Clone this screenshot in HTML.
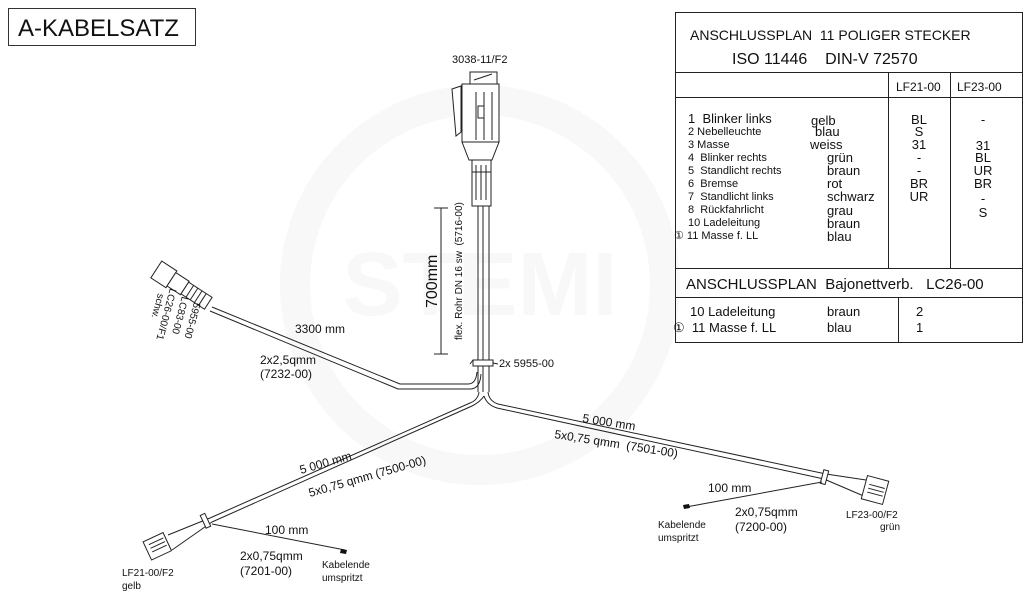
<!DOCTYPE html>
<html><head><meta charset="utf-8"><style>
body{margin:0;background:#fff;width:1032px;height:613px;overflow:hidden}
svg{display:block;font-family:"Liberation Sans",sans-serif}
text{white-space:pre}
</style></head><body>
<svg width="1032" height="613" viewBox="0 0 1032 613" xmlns="http://www.w3.org/2000/svg" xml:space="preserve">
<!-- watermark -->
<circle cx="480" cy="285" r="185" fill="none" stroke="#f8f8f8" stroke-width="30"/>
<text x="480" y="315" font-size="90" font-weight="bold" fill="#f8f8f8" text-anchor="middle">STEMI</text>

<!-- title box -->
<rect x="8.5" y="8.5" width="187" height="37" fill="#fff" stroke="#333"/>
<text x="18" y="36" font-size="24" fill="#111">A-KABELSATZ</text>

<!-- table -->
<g stroke="#222" fill="none" stroke-width="1">
<rect x="675.5" y="12.5" width="347" height="330"/>
<line x1="675" y1="72.5" x2="1022" y2="72.5"/>
<line x1="675" y1="97.5" x2="1022" y2="97.5"/>
<line x1="675" y1="268.5" x2="1022" y2="268.5"/>
<line x1="675" y1="297.5" x2="1022" y2="297.5"/>
<line x1="888.5" y1="72" x2="888.5" y2="268"/>
<line x1="950.5" y1="72" x2="950.5" y2="268"/>
<line x1="898.5" y1="297" x2="898.5" y2="342"/>
</g>
<g fill="#111">
<text x="690" y="40" font-size="14">ANSCHLUSSPLAN  11 POLIGER STECKER</text>
<text x="732" y="64" font-size="16">ISO 11446    DIN-V 72570</text>
<text x="896" y="91" font-size="12">LF21-00</text>
<text x="957" y="91" font-size="12">LF23-00</text>
<g font-size="11">
<text x="688" y="123" font-size="13">1  Blinker links</text>
<text x="688" y="135">2 Nebelleuchte</text>
<text x="688" y="148">3 Masse</text>
<text x="688" y="161">4  Blinker rechts</text>
<text x="688" y="174">5  Standlicht rechts</text>
<text x="688" y="187">6  Bremse</text>
<text x="688" y="200">7  Standlicht links</text>
<text x="688" y="213">8  Rückfahrlicht</text>
<text x="688" y="226">10 Ladeleitung</text>
<text x="674" y="239">① 11 Masse f. LL</text>
</g>
<g font-size="13">
<text x="811" y="125">gelb</text>
<text x="815" y="136">blau</text>
<text x="810" y="149">weiss</text>
<text x="827" y="162">grün</text>
<text x="827" y="175">braun</text>
<text x="827" y="188">rot</text>
<text x="827" y="201">schwarz</text>
<text x="827" y="215">grau</text>
<text x="827" y="228">braun</text>
<text x="827" y="241">blau</text>
</g>
<g font-size="13" text-anchor="middle">
<text x="919" y="124">BL</text><text x="919" y="136">S</text><text x="919" y="149">31</text>
<text x="919" y="162">-</text><text x="919" y="175">-</text><text x="919" y="188">BR</text><text x="919" y="201">UR</text>
<text x="983" y="124">-</text><text x="983" y="150">31</text><text x="983" y="162">BL</text><text x="983" y="175">UR</text>
<text x="983" y="188">BR</text><text x="983" y="203">-</text><text x="983" y="217">S</text>
</g>
<text x="686" y="289" font-size="15">ANSCHLUSSPLAN  Bajonettverb.   LC26-00</text>
<g font-size="13">
<text x="690" y="316">10 Ladeleitung</text>
<text x="673" y="332">①  11 Masse f. LL</text>
<text x="827" y="316">braun</text><text x="827" y="332">blau</text>
<text x="916" y="316">2</text><text x="916" y="332">1</text>
</g>
</g>

<!-- main plug -->
<g stroke="#222" fill="#fff" stroke-width="1">
<rect x="470" y="72" width="27" height="12"/>
<rect x="462" y="84" width="37" height="58"/>
<path d="M452 89 L461 86 L461 132 L456 136 Z"/>
<path d="M462 142 L499 142 L492 160 L469 160 Z"/>
<rect x="472" y="160" width="19" height="46"/>
<line x1="476" y1="92" x2="476" y2="140"/><line x1="484" y1="92" x2="484" y2="140"/><line x1="492" y1="92" x2="492" y2="140"/>
<rect x="478" y="106" width="6" height="12"/>
<line x1="476" y1="165" x2="476" y2="200"/><line x1="481" y1="165" x2="481" y2="200"/><line x1="486" y1="165" x2="486" y2="200"/>
<line x1="472" y1="172" x2="491" y2="172"/>
<path d="M474 80 L492 74"/>
</g>
<text x="452" y="63" font-size="11" fill="#111">3038-11/F2</text>

<!-- cables -->
<g fill="none" stroke="#222" stroke-width="1">
<path d="M478 206 L478 392"/><path d="M489 206 L489 392"/><path d="M483 206 L483 392"/>
<path d="M212 307 L400 384 L468 384 Q476 384 477 372"/>
<path d="M210 311 L398 389 L470 389 Q480 389 481 374"/>
<path d="M479 392 Q478 400 470 403 L210 518"/>
<path d="M484 396 Q480 402 472 406 L212 522"/>
<path d="M488 392 Q489 401 498 404 L826 474"/>
<path d="M484 396 Q487 405 497 408 L824 479"/>
<rect x="473" y="360" width="20" height="6" fill="#fff"/>
<path d="M470 364 L473 360 M493 363 L498 364"/>
<path d="M210 518 L168 535 M212 522 L172 550"/>
<rect x="203" y="514" width="5" height="14" transform="rotate(-25 205 521)" fill="#fff"/>
<g transform="rotate(-25 160 545)"><rect x="146" y="535" width="22" height="20" fill="#fff"/><line x1="150" y1="540" x2="166" y2="540"/><line x1="150" y1="544" x2="166" y2="544"/><line x1="150" y1="548" x2="166" y2="548"/></g>
<path d="M212 524 L345 550" />
<path d="M826 474 L866 480 M824 479 L866 497"/>
<rect x="822" y="470" width="5" height="14" transform="rotate(15 824 477)" fill="#fff"/>
<g transform="rotate(15 875 490)"><rect x="864" y="478" width="22" height="24" fill="#fff"/><line x1="868" y1="486" x2="884" y2="486"/><line x1="868" y1="490" x2="884" y2="490"/><line x1="868" y1="494" x2="884" y2="494"/></g>
<path d="M822 482 L686 507"/>
<line x1="441" y1="208" x2="441" y2="354"/>
<line x1="434" y1="208" x2="448" y2="208"/><line x1="434" y1="354" x2="448" y2="354"/>
<g transform="rotate(33 182 285)"><rect x="152" y="276" width="18" height="20" fill="#fff"/><rect x="170" y="278" width="16" height="16" fill="#fff"/><rect x="186" y="279" width="28" height="14" fill="#fff"/><line x1="192" y1="279" x2="192" y2="293"/><line x1="197" y1="279" x2="197" y2="293"/><line x1="202" y1="279" x2="202" y2="293"/><line x1="207" y1="279" x2="207" y2="293"/></g>
</g>
<path d="M341 549 L347 550 L346 554 L340 553 Z" fill="#111"/>
<path d="M683 505 L689 504 L690 508 L684 509 Z" fill="#111"/>

<g fill="#111" font-size="12">
<text transform="translate(437 308) rotate(-90)" font-size="16">700mm</text>
<text transform="translate(462 340) rotate(-90)" font-size="10">flex. Rohr DN 16 sw  (5716-00)</text>
<text x="499" y="367" font-size="11">2x 5955-00</text>
<text x="295" y="333">3300 mm</text>
<text x="260" y="364">2x2,5qmm</text>
<text x="260" y="378">(7232-00)</text>
<text transform="translate(301 474) rotate(-16)">5 000 mm</text>
<text transform="translate(310 497) rotate(-16)">5x0,75 qmm (7500-00)</text>
<text x="265" y="534">100 mm</text>
<text x="240" y="560">2x0,75qmm</text>
<text x="240" y="575">(7201-00)</text>
<text x="322" y="568" font-size="10">Kabelende</text>
<text x="322" y="581" font-size="10">umspritzt</text>
<text x="122" y="576" font-size="10">LF21-00/F2</text>
<text x="122" y="589" font-size="10">gelb</text>
<text transform="translate(582 422) rotate(9)">5 000 mm</text>
<text transform="translate(554 438) rotate(9)">5x0,75 qmm  (7501-00)</text>
<text x="708" y="492">100 mm</text>
<text x="735" y="516">2x0,75qmm</text>
<text x="735" y="531">(7200-00)</text>
<text x="658" y="528" font-size="10">Kabelende</text>
<text x="658" y="541" font-size="10">umspritzt</text>
<text x="846" y="518" font-size="10">LF23-00/F2</text>
<text x="880" y="530" font-size="10">grün</text>
<g font-size="10">
<text transform="translate(158 293) rotate(105)">schw.</text>
<text transform="translate(170 288) rotate(105)">LC26-00/F1</text>
<text transform="translate(182 296) rotate(105)">LC83-00</text>
<text transform="translate(194 302) rotate(105)">5955-00</text>
</g>
</g>
</svg>
</body></html>
